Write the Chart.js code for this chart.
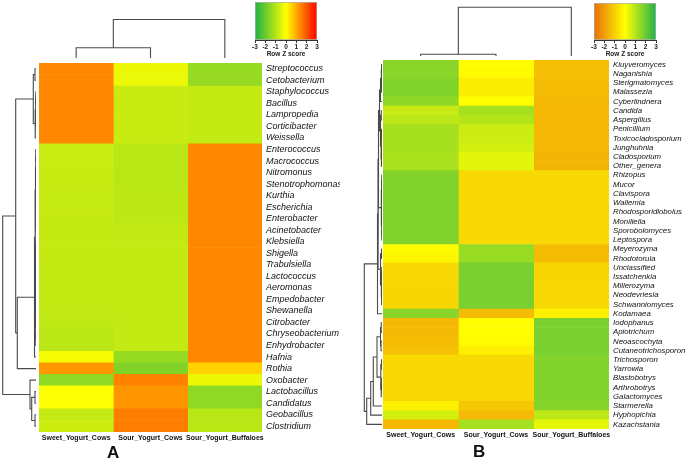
<!DOCTYPE html>
<html>
<head>
<meta charset="utf-8">
<script src="https://cdn.jsdelivr.net/npm/chart.js@4.4.1/dist/chart.umd.min.js"></script>
<style>
  body { margin: 0; background: #fff; width: 685px; height: 460px; position: relative; overflow: hidden; font-family: 'Liberation Sans', Arial, sans-serif; }
  .box { position: absolute; }
  .tag { position: absolute; font-weight: bold; font-size: 17px; color: #111; }
</style>
</head>
<body>

<div class="box" style="left:39px;top:0;width:223px;height:58px"><canvas id="colDendA"></canvas></div>
<div class="box" style="left:0;top:63px;width:36px;height:369px"><canvas id="rowDendA"></canvas></div>
<div class="box" style="left:39px;top:63px;width:301px;height:383px"><canvas id="heatA"></canvas></div>
<div class="box" style="left:250px;top:0;width:75px;height:58px"><canvas id="keyA"></canvas></div>
<div class="tag" style="left:107px;top:443px">A</div>

<div class="box" style="left:383px;top:0;width:226px;height:56px"><canvas id="colDendB"></canvas></div>
<div class="box" style="left:340px;top:60px;width:42px;height:369px"><canvas id="rowDendB"></canvas></div>
<div class="box" style="left:383px;top:60px;width:302px;height:383px"><canvas id="heatB"></canvas></div>
<div class="box" style="left:589px;top:0;width:75px;height:58px"><canvas id="keyB"></canvas></div>
<div class="tag" style="left:473px;top:442px">B</div>

<script>
// ============================
//  DATA
// ============================

const groups = ['Sweet_Yogurt_Cows', 'Sour_Yogurt_Cows', 'Sour_Yogurt_Buffaloes'];
const keyTicks = [-3, -2, -1, 0, 1, 2, 3];

// panel A - bacteria (row z scores)
const rowsA = ['Streptococcus','Cetobacterium','Staphylococcus','Bacillus','Lampropedia','Corticibacter','Weissella',
  'Enterococcus','Macrococcus','Nitromonus','Stenotrophomonas','Kurthia','Escherichia','Enterobacter','Acinetobacter',
  'Klebsiella','Shigella','Trabulsiella','Lactococcus','Aeromonas','Empedobacter','Shewanella','Citrobacter',
  'Chryseobacterium','Enhydrobacter','Hafnia','Rothia','Oxobacter','Lactobacillus','Candidatus','Geobacillus','Clostridium'];

const sweetCowsA = [1.4, 1.4, 1.4, 1.4, 1.4, 1.4, 1.4,
  -0.72, -0.72, -0.74, -0.74, -0.76, -0.76, -0.78, -0.78, -0.78, -0.78, -0.8, -0.8, -0.8, -0.8, -0.82, -0.86, -0.92, -0.92,
  -0.15, 1.24, -1.5, -0.03, -0.03, -0.8, -0.7];
const sourCowsA = [-0.27, -0.27, -0.73, -0.73, -0.73, -0.73, -0.73,
  -0.93, -0.93, -0.93, -0.93, -0.9, -0.9, -0.88, -0.82, -0.8, -0.8, -0.8, -0.8, -0.8, -0.8, -0.8, -0.8, -0.8, -0.8,
  -1.4, -1.67, 1.47, 1.24, 1.24, 1.53, 1.53];
const sourBuffA = [-1.4, -1.4, -0.8, -0.8, -0.8, -0.8, -0.8,
  1.4, 1.4, 1.4, 1.4, 1.4, 1.4, 1.4, 1.4, 1.4, 1.4, 1.4, 1.4, 1.4, 1.4, 1.4, 1.4, 1.4, 1.4,
  1.4, 0.53, -0.27, -1.5, -1.5, -0.93, -0.93];

// panel B - fungi (row z scores)
const rowsB = ['Kluyveromyces','Naganishia','Sterigmatomyces','Malassezia','Cyberlindnera','Candida','Aspergillus',
  'Penicillium','Toxicocladosporium','Junghuhnia','Cladosporium','Other_genera','Rhizopus','Mucor','Clavispora',
  'Wallemia','Rhodosporidiobolus','Moniliella','Sporobolomyces','Leptospora','Meyerozyma','Rhodotorula','Unclassified',
  'Issatchenkia','Millerozyma','Neodevriesia','Schwanniomyces','Kodamaea','Iodophanus','Apiotrichum','Neoascochyta',
  'Cutaneotrichosporon','Trichosporon','Yarrowia','Blastobotrys','Arthrobotrys','Galactomyces','Starmerella',
  'Hyphopichia','Kazachstania'];

const sweetCowsB = [1.6, 1.6, 1.7, 1.7, 1.5, 0.75, 0.9, 1.2, 1.2, 1.2, 1.15, 1.15,
  1.7, 1.7, 1.7, 1.7, 1.7, 1.7, 1.7, 1.7,
  -0.1, -0.2, -0.8, -0.8, -0.85, -0.85, -0.85, 1.6,
  -1.5, -1.45, -1.4, -1.3, -0.8, -0.8, -0.8, -0.8, -0.8, -0.3, 0.6, -1.5];
const sourCowsB = [-0.05, -0.1, -0.35, -0.35, 0.0, 1.2, 1.0, 0.7, 0.7, 0.6, 0.4, 0.4,
  -0.8, -0.8, -0.8, -0.8, -0.8, -0.8, -0.8, -0.8,
  1.4, 1.4, 1.8, 1.8, 1.8, 1.8, 1.8, -1.4,
  -0.05, -0.05, -0.1, -0.3, -0.8, -0.8, -0.8, -0.8, -0.8, -1.15, -1.45, 1.2];
const sourBuffB = [-1.35, -1.35, -1.4, -1.4, -1.5, -1.5, -1.5, -1.5, -1.5, -1.5, -1.55, -1.55,
  -0.8, -0.8, -0.8, -0.8, -0.8, -0.8, -0.8, -0.8,
  -1.4, -1.4, -0.85, -0.85, -0.8, -0.8, -0.8, -0.3,
  1.8, 1.8, 1.8, 1.8, 1.7, 1.7, 1.7, 1.7, 1.7, 1.65, 0.9, 0.35];

// dendrograms: [height, left, right], leaves are row / column indexes
const colTreeA = [38.5, [10.3, 0, 1], 2];
const colTreeB = [48.7, [1.7, 0, 1], 2];

const rowTreeA = [33.3,
  [20.3,
    [2.7, [1, 0, 1], [0.8, [0.4, [0.2, 2, 3], [0.2, 4, 5]], 6]],
    [18.7,
      [1.5,
        [1.0,
          [0.6, [0.3, [0.2, 7, 8], [0.2, 9, 10]], [0.3, [0.2, 11, 12], [0.2, 13, 14]]],
          [0.6, [0.3, [0.2, 15, 16], [0.2, 17, 18]], [0.4, [0.2, 19, 20], [0.3, [0.2, 21, 22], [0.2, 23, 24]]]]],
        25],
      26]],
  [6, 27, [4.3, [1, 28, 29], [1, 30, 31]]]];

const rowTreeB = [17.7,
  [4.5,
    [4,
      [3.5,
        [2.5,
          [1.5, [0.8, [0.4, 0, 1], [0.4, 2, 3]], 4],
          [1.5, [0.8, 5, 6], [1.0, [0.5, 7, 8], [0.6, [0.4, 9, 10], 11]]]],
        [0.8, [0.4, [0.2, 12, 13], [0.2, 14, 15]], [0.4, [0.2, 16, 17], [0.2, 18, 19]]]],
      [1.5, [0.5, 20, 21], [0.8, [0.3, 22, 23], [0.4, [0.2, 24, 25], 26]]]],
    27],
  [15.3,
    [11.3,
      [8.7,
        [5, [1.5, [0.8, 28, 29], [1, 30, 31]], [1.2, [0.5, 32, 33], [0.8, [0.4, 34, 35], 36]]],
        37],
      38],
    39]];

// colour keys (low, zero, high)
const stopsA = [[30, 176, 70], [255, 255, 0], [255, 0, 0]];
const stopsB = [[232, 112, 10], [255, 255, 0], [34, 177, 76]];

// ============================
//  HELPERS
// ============================

function mix(c1, c2, t) {
    return c1.map((v, i) => Math.round(v + (c2[i] - v) * t));
}

function zColor(z, stops) {
    const t = Math.max(-3, Math.min(3, z)) / 3;
    const c = t < 0 ? mix(stops[1], stops[0], -t) : mix(stops[1], stops[2], t);
    return 'rgb(' + c.join(',') + ')';
}

// walk the tree, collect one U-shaped link per merge
function layoutTree(node, out) {
    if (typeof node === 'number') return { pos: node + 0.5, h: 0 };
    const a = layoutTree(node[1], out);
    const b = layoutTree(node[2], out);
    out.push([[a.pos, a.h], [a.pos, node[0]], [b.pos, node[0]], [b.pos, b.h]]);
    return { pos: (a.pos + b.pos) / 2, h: node[0] };
}

// no label overhang padding, the cells must fill the canvas edge to edge
function noPad(s) {
    s.paddingTop = 0; s.paddingBottom = 0; s.paddingLeft = 0; s.paddingRight = 0;
}

function dendrogram(id, tree, sideways, nLeaves, hMax) {
    const links = [];
    layoutTree(tree, links);
    const posAxis = { type: 'linear', display: false, min: 0, max: nLeaves, reverse: sideways };
    const hAxis = { type: 'linear', display: false, min: 0, max: hMax, reverse: sideways };
    new Chart(document.getElementById(id), {
        type: 'scatter',
        data: {
            datasets: links.map(l => ({
                data: l.map(([p, h]) => sideways ? { x: h, y: p } : { x: p, y: h }),
                showLine: true,
                borderColor: '#4a4a4a',
                borderWidth: 1.1,
                pointRadius: 0,
                clip: false
            }))
        },
        options: {
            responsive: true,
            maintainAspectRatio: false,
            animation: false,
            layout: { padding: 0 },
            plugins: { legend: { display: false }, tooltip: { enabled: false } },
            scales: sideways ? { x: hAxis, y: posAxis } : { x: posAxis, y: hAxis }
        }
    });
}

function heatmap(id, rows, columns, stops, labelFont, labelWidth) {
    new Chart(document.getElementById(id), {
        type: 'bar',
        data: {
            labels: rows,
            datasets: columns.map((vals, j) => ({
                label: groups[j],
                data: vals.map(() => [j, j + 1]),
                backgroundColor: vals.map(z => zColor(z, stops)),
                borderWidth: 0,
                barPercentage: 1,
                categoryPercentage: 1,
                grouped: false
            }))
        },
        options: {
            indexAxis: 'y',
            responsive: true,
            maintainAspectRatio: false,
            animation: false,
            layout: { padding: 0 },
            plugins: { legend: { display: false }, tooltip: { enabled: false } },
            scales: {
                x: {
                    type: 'linear', min: 0, max: 3,
                    grid: { display: false, drawTicks: false },
                    border: { display: false },
                    afterBuildTicks: s => { s.ticks = [0.5, 1.5, 2.5].map(v => ({ value: v })); },
                    afterFit: s => { s.height = 14; noPad(s); },
                    ticks: {
                        autoSkip: false, maxRotation: 0, padding: 2, color: '#111',
                        font: { family: 'Liberation Sans', size: 7, weight: 'bold' },
                        callback: (v, i) => groups[i]
                    }
                },
                y: {
                    position: 'right',
                    grid: { display: false, drawTicks: false },
                    border: { display: false },
                    afterFit: s => { s.width = labelWidth; noPad(s); },
                    ticks: { autoSkip: false, padding: 4, color: '#111', font: labelFont }
                }
            }
        }
    });
}

function colorKey(id, stops, padTop) {
    new Chart(document.getElementById(id), {
        type: 'bar',
        data: {
            labels: [''],
            datasets: [{
                data: [[keyTicks[0], keyTicks[keyTicks.length - 1]]],
                backgroundColor: c => {
                    const { chart } = c;
                    const x = chart.scales.x;
                    if (!chart.chartArea || !x) return null;
                    const g = chart.ctx.createLinearGradient(x.getPixelForValue(-3), 0, x.getPixelForValue(3), 0);
                    g.addColorStop(0, 'rgb(' + stops[0].join(',') + ')');
                    g.addColorStop(0.5, 'rgb(' + stops[1].join(',') + ')');
                    g.addColorStop(1, 'rgb(' + stops[2].join(',') + ')');
                    return g;
                },
                borderColor: '#b0b0b0',
                borderWidth: 1,
                borderSkipped: false,
                barPercentage: 1,
                categoryPercentage: 1
            }]
        },
        options: {
            indexAxis: 'y',
            responsive: true,
            maintainAspectRatio: false,
            animation: false,
            layout: { padding: { left: 5, right: 8, top: padTop, bottom: 0 } },
            plugins: { legend: { display: false }, tooltip: { enabled: false } },
            scales: {
                x: {
                    type: 'linear', min: -3, max: 3,
                    afterBuildTicks: s => { s.ticks = keyTicks.map(v => ({ value: v })); },
                    afterFit: s => { s.height = 18; noPad(s); },
                    grid: { drawOnChartArea: false, tickLength: 3, color: '#333' },
                    border: { display: true, color: '#333' },
                    ticks: { autoSkip: false, maxRotation: 0, padding: 0, color: '#222',
                             font: { family: 'Liberation Sans', size: 6.5, weight: 'bold' } },
                    title: { display: true, text: 'Row Z score', padding: 0, color: '#222',
                             font: { family: 'Liberation Sans', size: 6.5, weight: 'bold' } }
                },
                y: { display: false }
            }
        }
    });
}

// ============================
//  DRAW
// ============================

dendrogram('colDendA', colTreeA, false, 3, 58);
dendrogram('rowDendA', rowTreeA, true, rowsA.length, 36);
heatmap('heatA', rowsA, [sweetCowsA, sourCowsA, sourBuffA], stopsA,
        { family: 'Liberation Sans', size: 9, style: 'italic' }, 78);
colorKey('keyA', stopsA, 2);

dendrogram('colDendB', colTreeB, false, 3, 56);
dendrogram('rowDendB', rowTreeB, true, rowsB.length, 42);
heatmap('heatB', rowsB, [sweetCowsB, sourCowsB, sourBuffB], stopsB,
        { family: 'Liberation Sans', size: 7.8, style: 'italic' }, 76);
colorKey('keyB', stopsB, 3);
</script>
</body>
</html>
